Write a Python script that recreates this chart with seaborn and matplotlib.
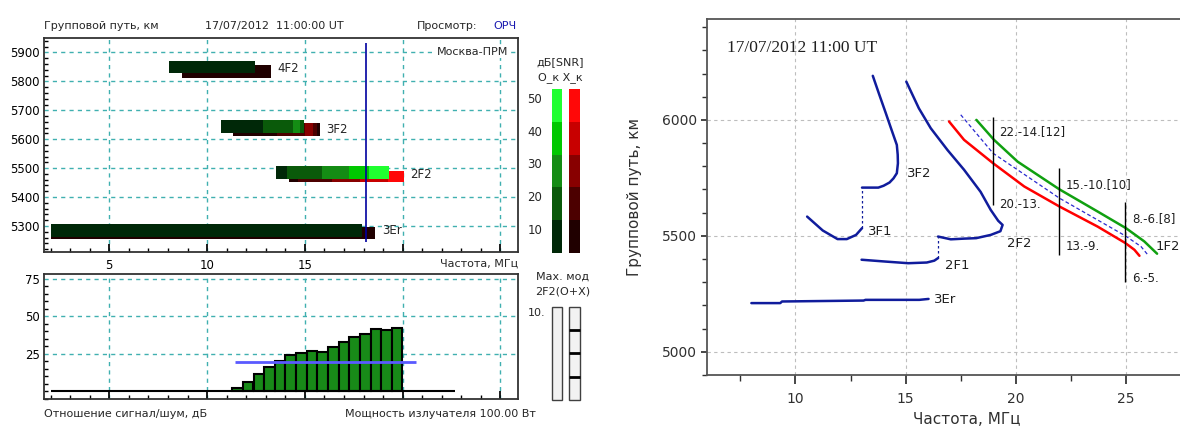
import numpy as np
import pandas as pd
import matplotlib.pyplot as plt
import seaborn as sns
from matplotlib.ticker import MultipleLocator

sns.set_theme(style='ticks')
plt.rcParams['font.family'] = ['DejaVu Sans']
plt.rcParams['font.size'] = 8

# ---------------- data: left (ionogram view) ----------------
modes = ['4F2', '3F2', '2F2', '3Er']
o_span = [(5828, 5872), (5621, 5666), (5462, 5508), (5263, 5307)]
x_span = [(5810, 5855), (5610, 5655), (5452, 5491), (5255, 5295)]
o_segments = [
    [(8.06, 12.45, 10)],
    [(10.7, 12.84, 10), (12.84, 14.4, 20), (14.4, 14.75, 30), (14.75, 14.95, 20)],
    [(13.5, 14.1, 10), (14.1, 15.87, 20), (15.87, 17.25, 30), (17.25, 18.3, 40), (18.3, 19.3, 50)],
    [(2.0, 17.9, 10)],
]
x_segments = [
    [(8.72, 13.26, 10)],
    [(11.33, 13.6, 10), (13.6, 15.0, 20), (15.0, 15.4, 30), (15.4, 15.6, 20), (15.6, 15.77, 10)],
    [(14.18, 14.67, 10), (14.67, 16.37, 20), (16.37, 17.81, 30), (17.81, 19.25, 40), (19.25, 20.05, 50)],
    [(2.0, 18.6, 10)],
]
mode_label_f = [13.6, 16.07, 20.4, 18.96]
mode_label_p = [5845, 5635, 5479, 5286]
cursor_f = 18.15

snr_levels = [10, 20, 30, 40, 50]
o_colors = ['#002808', '#0a5a0a', '#148c14', '#00c800', '#20ff30']
x_colors = ['#200000', '#4c0000', '#880000', '#c80000', '#ff0808']

snr_freq = [11.56, 12.10, 12.65, 13.19, 13.74, 14.28, 14.82, 15.37,
            15.91, 16.46, 17.00, 17.54, 18.09, 18.63, 19.18, 19.72]
snr_db = [1.8, 5.8, 11.2, 15.8, 20.3, 24.1, 25.4, 27.0,
          26.1, 29.2, 33.0, 35.9, 38.4, 41.3, 40.6, 42.2]
threshold_db = 19.5

# ---------------- data: right (group path vs frequency) ----------------
f_3F2 = [13.51, 13.80, 14.10, 14.35, 14.60, 14.64, 14.65, 14.60, 14.45, 14.27, 14.00, 13.76, 13.02]
p_3F2 = [6190, 6110, 6029, 5960, 5892, 5850, 5813, 5770, 5748, 5730, 5716, 5708, 5708]
f_3F1 = [10.53, 11.24, 11.91, 12.33, 12.75, 13.02]
p_3F1 = [5583, 5523, 5486, 5486, 5504, 5533]
f_2F2 = [15.03, 15.60, 16.14, 16.90, 17.65, 18.40, 18.86, 19.20, 19.40, 19.30, 18.86, 18.20, 17.65, 17.05, 16.47]
p_2F2 = [6165, 6050, 5964, 5870, 5785, 5690, 5612, 5565, 5547, 5520, 5504, 5490, 5488, 5485, 5497]
f_2F1 = [13.00, 14.10, 15.12, 15.96, 16.30, 16.47]
p_2F1 = [5397, 5389, 5382, 5385, 5393, 5404]
f_3Er = [8.00, 9.31, 9.39, 13.09, 13.18, 15.62, 16.04]
p_3Er = [5210, 5210, 5217, 5221, 5224, 5224, 5228]
f_1F2_x = [18.21, 19.01, 20.08, 21.97, 23.71, 25.00, 25.83, 26.41]
p_1F2_x = [6000, 5914, 5820, 5701, 5605, 5533, 5476, 5423]
f_1F2_o = [16.97, 17.65, 18.97, 20.38, 21.97, 23.71, 24.97, 25.38, 25.61]
p_1F2_o = [5993, 5914, 5813, 5713, 5627, 5540, 5469, 5440, 5414]
f_1F2_m = [17.50, 18.97, 21.97, 24.97, 25.68, 25.99]
p_1F2_m = [6022, 5856, 5663, 5500, 5454, 5418]
hop_f = [18.95, 21.97, 24.97]
hop_top = [6014, 5792, 5648]
hop_bot = [5634, 5418, 5299]
hop_upper = ['22.-14.[12]', '15.-10.[10]', '8.-6.[8]']
hop_lower = ['20.-13.', '13.-9.', '6.-5.']
hop_upper_p = [5950, 5720, 5576]
hop_lower_p = [5634, 5454, 5318]
layer_names = ['3F2', '3F1', '2F2', '2F1', '3Er', '1F2']
layer_f = [15.06, 13.29, 19.62, 16.80, 16.29, 26.36]
layer_p = [5767, 5519, 5469, 5372, 5224, 5454]

W, H = 1180, 428


def box(x0, y0, x1, y1):
    return [x0 / W, 1 - y1 / H, (x1 - x0) / W, (y1 - y0) / H]


def ftxt(x, y, s, **kw):
    fig.text(x / W, 1 - y / H, s, **kw)


fig = plt.figure(figsize=(11.8, 4.28), dpi=100)
grid_kw = dict(color='#40b0b0', linestyle=(0, (3, 3)), linewidth=1)

# ---------- top-left panel ----------
ax1 = fig.add_axes(box(44, 38, 518, 252))
ax1.set_axisbelow(True)
for spans, segs, cols in ((x_span, x_segments, x_colors), (o_span, o_segments, o_colors)):
    for (y0, y1), seg in zip(spans, segs):
        for a, b, lvl in seg:
            ax1.barh((y0 + y1) / 2, b - a, left=a, height=y1 - y0,
                     color=cols[snr_levels.index(lvl)], linewidth=0)
for name, f, p in zip(modes, mode_label_f, mode_label_p):
    ax1.text(f, p, name, ha='left', va='center', fontsize=8.5)
ax1.vlines(cursor_f, 5245, 5931, color='#0000a0', linewidth=1.2)
ax1.set_xlim(1.66, 25.9)
ax1.set_ylim(5210, 5950)
ax1.set_yticks([5300, 5400, 5500, 5600, 5700, 5800, 5900])
ax1.yaxis.set_minor_locator(MultipleLocator(20))
ax1.set_xticks([5, 10, 15, 20, 25])
ax1.set_xticklabels(['5', '10', '15', '', ''])
ax1.xaxis.set_minor_locator(MultipleLocator(1))
ax1.grid(True, **grid_kw)
ax1.tick_params(which='both', direction='in', labelsize=8.5, colors='black')
ax1.tick_params(axis='y', which='major', length=0, pad=3)
ax1.tick_params(axis='y', which='minor', length=3)
ax1.tick_params(axis='x', which='major', length=6, pad=5)
ax1.tick_params(axis='x', which='minor', length=3)

# ---------- bottom-left panel ----------
ax2 = fig.add_axes(box(44, 274, 518, 399))
ax2.set_axisbelow(True)
sns.barplot(x=snr_freq, y=snr_db, native_scale=True, orient='x', width=1.0,
            color='#188a18', saturation=1, edgecolor='black', linewidth=1.5,
            errorbar=None, ax=ax2)
ax2.hlines(0, 2.0, 22.7, color='black', linewidth=1.5, zorder=1)
ax2.hlines(threshold_db, 11.44, 20.7, color='#5a5aff', linewidth=2, zorder=5)
ax2.set_xlim(1.66, 25.9)
ax2.set_ylim(-5.3, 78.3)
ax2.set_yticks([25, 50, 75])
ax2.yaxis.set_minor_locator(MultipleLocator(5))
ax2.set_xticks([5, 10, 15, 20, 25])
ax2.set_xticklabels([])
ax2.xaxis.set_minor_locator(MultipleLocator(1))
ax2.grid(True, **grid_kw)
ax2.set_xlabel('')
ax2.set_ylabel('')
ax2.tick_params(which='both', direction='in', labelsize=8.5, colors='black')
ax2.tick_params(axis='y', which='major', length=0, pad=3)
ax2.tick_params(axis='y', which='minor', length=3)
ax2.tick_params(axis='x', which='major', length=6)
ax2.tick_params(axis='x', which='minor', length=3)

for ax in (ax1, ax2):
    for s in ax.spines.values():
        s.set_color('#333333')
        s.set_linewidth(1.3)
    for t in ax.xaxis.get_minor_ticks() + ax.xaxis.get_major_ticks():
        if t.get_loc() <= 5:
            t.tick1line.set_color('#0000c0')

# ---------- SNR colour legend ----------
leg = fig.add_axes(box(545, 89, 586, 253))
for col, cols in enumerate((o_colors, x_colors)):
    leg.bar([col] * 5, [10] * 5, bottom=[l - 10 for l in snr_levels],
            width=0.6, color=cols, linewidth=0)
leg.set_xlim(-0.671, 1.652)
leg.set_ylim(0, 50)
leg.set_xticks([])
leg.set_yticks([l - 2.7 for l in snr_levels])
leg.set_yticklabels([str(l) for l in snr_levels])
leg.tick_params(length=0, pad=2, labelsize=8.5)
for s in leg.spines.values():
    s.set_visible(False)

# ---------- max-mode legend ----------
mm = fig.add_axes(box(545, 306.7, 586, 400))
mm.bar([0, 1], [4, 4], width=0.6, color='#f2f2f2', edgecolor='#404040',
       linewidth=1, clip_on=False)
mm.hlines([1, 2, 3], 0.7, 1.3, color='black', linewidth=2)
mm.set_xlim(-0.671, 1.652)
mm.set_ylim(0, 4)
mm.set_xticks([])
mm.set_yticks([])
mm.patch.set_alpha(0)
for s in mm.spines.values():
    s.set_visible(False)

# ---------- left texts ----------
ftxt(44, 26, 'Групповой путь, км', ha='left', va='center')
ftxt(274, 26, '17/07/2012  11:00:00 UT', ha='center', va='center')
ftxt(417, 26, 'Просмотр:', ha='left', va='center')
ftxt(493, 26, 'ОРЧ', ha='left', va='center', color='#1a1ab0')
ftxt(508, 52, 'Москва-ПРМ', ha='right', va='center',
     bbox=dict(facecolor='white', edgecolor='none', pad=0.5))
ftxt(518, 264, 'Частота, МГц', ha='right', va='center')
ftxt(44, 414, 'Отношение сигнал/шум, дБ', ha='left', va='center')
ftxt(536, 414, 'Мощность излучателя 100.00 Вт', ha='right', va='center')
ftxt(560, 62, 'дБ[SNR]', ha='center', va='center')
ftxt(560, 78, 'О_к Х_к', ha='center', va='center')
ftxt(563, 277, 'Max. мод', ha='center', va='center')
ftxt(563, 292, '2F2(O+X)', ha='center', va='center')
ftxt(528, 313, '10.', ha='left', va='center')

# ---------- right panel ----------
ax3 = fig.add_axes(box(707.3, 19, 1180, 375))
ax3.set_axisbelow(True)
navy = '#101c9c'
for f, p in ((f_3F2, p_3F2), (f_3F1, p_3F1), (f_2F2, p_2F2), (f_2F1, p_2F1), (f_3Er, p_3Er)):
    sns.lineplot(x=f, y=p, sort=False, estimator=None, color=navy, linewidth=1.8, ax=ax3)
ax3.vlines([13.02, 16.47], [5533, 5404], [5708, 5497], color=navy,
           linestyle=(0, (2, 2)), linewidth=0.9)
sns.lineplot(x=f_1F2_o, y=p_1F2_o, sort=False, estimator=None, color='#ff0000', linewidth=1.8, ax=ax3)
sns.lineplot(x=f_1F2_x, y=p_1F2_x, sort=False, estimator=None, color='#10a010', linewidth=1.8, ax=ax3)
sns.lineplot(x=f_1F2_m, y=p_1F2_m, sort=False, estimator=None, color='#2a2ad0',
             linewidth=0.9, linestyle=(0, (3, 2)), ax=ax3)
ax3.vlines(hop_f, hop_bot, hop_top, color='black', linewidth=1)
for f, s, p in zip(hop_f, hop_upper, hop_upper_p):
    ax3.text(f + 0.3, p, s, ha='left', va='center', fontsize=8.5, color='#202020')
for f, s, p in zip(hop_f, hop_lower, hop_lower_p):
    ax3.text(f + 0.3, p, s, ha='left', va='center', fontsize=8.5, color='#202020')
for s, f, p in zip(layer_names, layer_f, layer_p):
    ax3.text(f, p, s, ha='left', va='center', fontsize=9.5, color='#202020')
ax3.text(6.9, 6310, '17/07/2012 11:00 UT', ha='left', va='center',
         fontsize=12.5, family='Liberation Serif', color='#202020')

ax3.set_xlim(6.0, 27.45)
ax3.set_ylim(4900, 6435)
ax3.set_xticks([10, 15, 20, 25])
ax3.xaxis.set_minor_locator(MultipleLocator(2.5))
ax3.set_yticks([5000, 5500, 6000])
ax3.yaxis.set_minor_locator(MultipleLocator(100))
ax3.grid(True, color='#bdbdbd', linestyle=(0, (3, 3)), linewidth=0.8)
ax3.tick_params(which='both', direction='out', labelsize=10, colors='#303030')
ax3.tick_params(axis='x', which='major', length=6.5, pad=6)
ax3.tick_params(axis='x', which='minor', length=4)
ax3.tick_params(axis='y', which='major', length=4.5, pad=3)
ax3.tick_params(axis='y', which='minor', length=3.5)
ax3.set_xlabel('')
ax3.set_ylabel('')
ax3.spines['right'].set_visible(False)
for k in ('top', 'left', 'bottom'):
    ax3.spines[k].set_color('#555555')
    ax3.spines[k].set_linewidth(1.3)

ftxt(966.7, 419, 'Частота, МГц', ha='center', va='center', fontsize=11, color='#303030')
ftxt(634, 197, 'Групповой путь, км', ha='center', va='center', fontsize=11,
     rotation=90, color='#303030')

fig.savefig('out.png', dpi=100)
